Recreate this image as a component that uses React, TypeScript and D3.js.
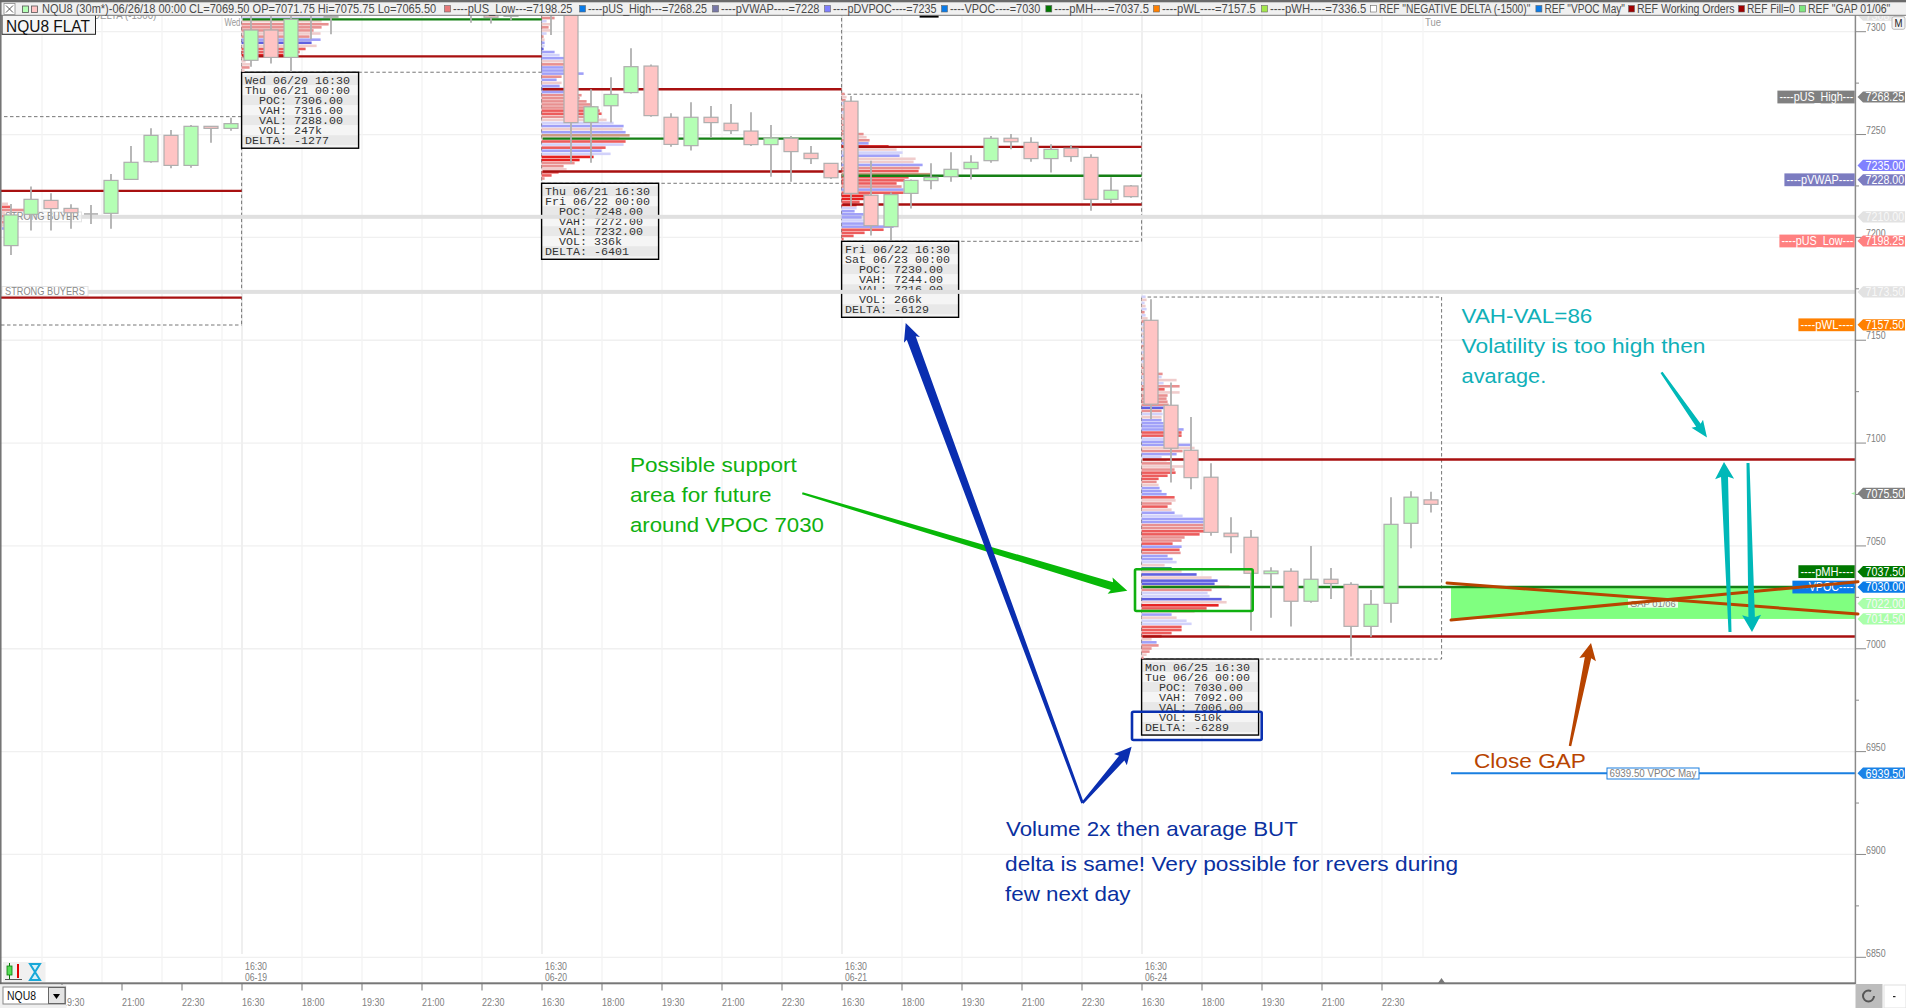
import React from "react";
import * as d3 from "d3";

// ---------- data ----------
const yGridPrices = [7300, 7250, 7200, 7150, 7100, 7050, 7000, 6950, 6900, 6850];
const yMinorPrices = [7275, 7225, 7175, 7125, 7075, 7025, 6975, 6925, 6875];

const candleIndex = [0,1,2,3,4,5,6,7,8,9,10,11,12,13,14,15,16,23,24,25,27,28,29,30,31,32,33,34,35,36,37,38,39,40,41,42,43,44,45,46,47,48,49,50,51,52,53,54,55,56,57,58,59,60,61,62,63,64,65,66,67,68,69,70,71];
const candleOpen = [7196,7211.2,7218,7214.1,7211.4,7211.7,7228.2,7236.8,7249.6,7235,7254,7253,7286.1,7300.8,7287.5,7309,7307,7312,7308,7307.5,7318,7325,7255.9,7264,7270.4,7283.3,7258.4,7244.6,7258.4,7255.5,7251.7,7245.1,7248.2,7240.9,7236,7266.2,7220.5,7205.2,7221.4,7227.6,7229.5,7233.4,7237.3,7248.2,7246.2,7238.3,7243.3,7238.9,7218.5,7225,7159.7,7118.4,7096.5,7083.4,7056.2,7054.2,7036.5,7037.7,7023.1,7033.8,7031.3,7010.9,7022.1,7061,7072.4];
const candleClose = [7210.9,7218.5,7214,7212,7211.4,7227.7,7236.5,7249.6,7235,7254,7253,7255.3,7300.8,7287.5,7306,7308,7307.6,7310,7307,7308.2,7316,7255.8,7263.5,7269.5,7283,7259.2,7245.2,7258.4,7255.8,7251.9,7245.1,7248.3,7241.7,7238.3,7229,7221.4,7205.7,7220.8,7227.7,7229.2,7233.1,7236.5,7248.2,7246.5,7238.3,7242.8,7239.3,7218.5,7222.9,7219.8,7118.9,7097.5,7083.2,7056.6,7054.5,7036.7,7037.8,7023.1,7033.8,7031.7,7010.9,7021.6,7060.5,7073.7,7070.2];
const candleHigh = [7216.2,7224.7,7221.4,7216.1,7215.7,7230.8,7244.4,7253,7252.2,7254.6,7254.1,7258.2,7312,7312,7312,7312,7312,7318,7318,7318,7320,7330,7272,7277.8,7292,7284.1,7260.3,7265.7,7263.9,7264.9,7260.8,7254.6,7249.3,7244.4,7236,7268.7,7237.2,7221.8,7228.2,7236,7241.4,7239.9,7249.3,7250.3,7248.7,7245.3,7244.9,7240.4,7229.2,7225.5,7169.9,7129.4,7112.7,7090.2,7063.9,7057.8,7039.6,7039.1,7050,7039.3,7032.3,7028.6,7073.7,7076.6,7076.3];
const candleLow = [7191.4,7203.3,7203.3,7204.2,7206.5,7204.2,7227.9,7236.3,7233.6,7233.9,7246,7251.9,7283,7284.6,7280.6,7296.3,7298.7,7304.4,7304,7305.4,7298.4,7236,7236.3,7255.9,7270,7258.7,7244.1,7242.2,7248.6,7250.3,7244.4,7229.5,7227.1,7235.7,7228.4,7215.3,7200.9,7198.7,7214,7223.4,7227.1,7228.2,7236.3,7242.8,7236.8,7231.5,7236.8,7213,7216.6,7219.3,7111.6,7080.8,7077.5,7055,7046.4,7008.8,7015.1,7010.8,7022.4,7024.2,6996.2,7005.9,7012.7,7048.9,7066.2];

const sessionFirstIndex = [12, 27, 42, 57];
const sessionEndIndex = [27, 42, 57, 72];
const sessionPoc = [7306, 7248, 7230, 7030];
const sessionVah = [7316, 7272, 7244, 7092];
const sessionVal = [7288, 7232, 7216, 7006];
const sessionBoxTop = [7330, 7330, 7269.6, 7171];
const sessionBoxBottom = [7280.3, 7226.3, 7198.1, 6995];
const priorVah = 7222.6;
const priorVal = 7170.7;
const priorBoxTop = 7258.7;
const priorBoxBottom = 7157.4;

const tableOpen = ["Wed 06/20 16:30", "Thu 06/21 16:30", "Fri 06/22 16:30", "Mon 06/25 16:30"];
const tableClose = ["Thu 06/21 00:00", "Fri 06/22 00:00", "Sat 06/23 00:00", "Tue 06/26 00:00"];
const tablePoc = ["7306.00", "7248.00", "7230.00", "7030.00"];
const tableVah = ["7316.00", "7272.00", "7244.00", "7092.00"];
const tableVal = ["7288.00", "7232.00", "7216.00", "7006.00"];
const tableVol = ["247k", "336k", "266k", "510k"];
const tableDelta = ["-1277", "-6401", "-6129", "-6289"];

// volume profile rows: volume + tone letter, top to bottom, one row per 1.5 points
const profilePrior = ["6q","8r","24p","3q","3p","3q","3p","2q","3a"];
const profileStartPrior = 7216.2;
const profileStarts = [7308, 7308, 7269.6, 7171];
const profile1 = ["82t","88b","80q","87p","80p","72p","79q","68p","79a","70c","75q","64r","58r","42d","7q","4q","9q","8p","3q"];
const profile2 = ["13q","13p","5b","9q","7p","9q","5b","2p","3q","3a","3b","2c","13a","18b","24a","24q","24p","22a","24a","42a","20p","15a","20q","18a","23c","34a","40p","38p","45p","50p","53p","58r","60r","57p","65q","72b","82a","81q","84a","88t","78q","84r","82b","64r","60a","69b","52d","38d","33p","22p","25q","17r","10r","3p"];
const profile3 = ["3p","5q","4p","6b","4q","5p","4b","3q","5p","6q","8p","10q","14p","22p","25q","28p","27a","47d","55q","61b","58a","74q","72q","81a","78p","77r","89t","67r","63r","55r","60p","62a","62r","28d","25d","18r","15d","15b","13a","22a","20a","25b","35a","52a","42r","23r","12r","2r"];
const profile4 = ["4b","5q","3b","4q","5b","3p","4b","6q","5p","4b","3q","5b","4q","3b","5q","4b","3p","4q","5b","4q","3p","4b","5q","4p","6q","21p","20b","35q","22b","38p","23r","38q","26p","25p","26p","27p","22c","20p","21b","20q","20a","22a","24a","42a","40r","40r","24b","30a","50a","53q","41p","35a","20b","25q","30p","42q","33p","34r","26r","17r","15p","17q","18a","20a","25a","33r","34q","30p","26r","30q","33a","41b","62a","62a","62p","62p","63r","58r","43p","40p","31r","40a","38r","39p","26a","31a","35b","23q","30e","40q","55c","70q","76c","73c","88t","70p","66b","68b","80c","85q","77d","65r","53q","30a","35q","45b","50b","40r","40r","30r","20r","10q","15a","17p","10p","8p","5q","2p"];
const profileTones: Record<string, string> = { a: "#a0a0f8", b: "#d2d2fa", c: "#6060e0", p: "#e89090", q: "#f0cccc", r: "#ec5c5c", d: "#e62222", t: "#cc9a80", e: "#409090" };

const flagPrices = [7308, 7268.25, 7235, 7228, 7210, 7198.25, 7173.5, 7157.5, 7075.5, 7037.5, 7030, 7022, 7014.5, 6939.5];
const flagColors = ["#e2e2e2", "#808080", "#8080ff", "#7c7cc0", "#e2e2e2", "#ff8080", "#e2e2e2", "#ff8000", "#808080", "#007800", "#0a7be8", "#aaffaa", "#aaffaa", "#1a82e6"];
const flagTags = ["", "----pUS_High---", "", "----pVWAP----", "", "----pUS_Low---", "", "----pWL----", "", "----pMH----", "----VPOC----", "", "", ""];
const flagTagWidths = [0, 78, 0, 71, 0, 76, 0, 57, 0, 57, 63, 0, 0, 0];

const headerTexts = ["NQU8 (30m*)-06/26/18 00:00 CL=7069.50 OP=7071.75 Hi=7075.75 Lo=7065.50", "----pUS_Low---=7198.25", "----pUS_High---=7268.25", "----pVWAP----=7228", "----pDVPOC----=7235", "----VPOC----=7030", "----pMH----=7037.5", "----pWL----=7157.5", "----pWH----=7336.5", "REF \"NEGATIVE DELTA (-1500)\"", "REF \"VPOC May\"", "REF Working Orders", "REF Fill=0", "REF \"GAP 01/06\""];
const headerStarts = [42, 453, 588, 721, 833, 950, 1054.3, 1162, 1270, 1379, 1544.4, 1637, 1747, 1808];
const headerEnds = [436.7, 572.6, 707, 819.6, 936.7, 1040.4, 1149, 1256, 1366.4, 1531, 1625, 1734.6, 1795, 1890.5];
const headerSwatches = ["#e87878", "#0a7be8", "#7878a8", "#8080ff", "#0a7be8", "#007800", "#ff8000", "#a4e84c", "#ffffff", "#0a7be8", "#a00000", "#a00000", "#7fe87f"];

const timeTickLabels = ["19:30","21:00","22:30","16:30","18:00","19:30","21:00","22:30","16:30","18:00","19:30","21:00","22:30","16:30","18:00","19:30","21:00","22:30","16:30","18:00","19:30","21:00","22:30"];
const dateLabels = ["06-19", "06-20", "06-21", "06-24"];

// ---------- scales ----------
const WIDTH = 1906, HEIGHT = 1008;
const AXIS_X = 1855.4;
const y = d3.scaleLinear().domain([7300, 6850]).range([31.7, 957.3]);
const x = d3.scaleLinear().domain([0, 71]).range([11, 1431]);
const vol = d3.scaleLinear().domain([0, 100]).range([0, 100]);
const edge = (i: number) => x(i) - 9.4;

const SANS = "'Liberation Sans', Arial, sans-serif";
const NARROW = SANS;
const MONO = "'Liberation Mono', monospace";

const measureCtx = document.createElement("canvas").getContext("2d") as CanvasRenderingContext2D;
function naturalWidth(text: string, size: number, family: string) {
  measureCtx.font = `${size}px ${family}`;
  return measureCtx.measureText(text).width;
}

// text squeezed horizontally to the exact width it takes in the reference
function T(props: { x: number; y: number; w?: number; size: number; fill: string; family?: string; children: React.ReactNode }) {
  const { x: tx, y: ty, w, size, fill, family, children } = props;
  const fam = family || SANS;
  const sx = w ? w / naturalWidth(String(children), size, fam) : 1;
  return (
    <text transform={`translate(${tx},${ty}) scale(${sx},1)`} fontSize={size} fill={fill} fontFamily={fam} style={{ whiteSpace: "pre" }}>
      {children}
    </text>
  );
}

function arrow(x0: number, y0: number, x1: number, y1: number, w0: number, w1: number, hw: number, hl: number) {
  const len = Math.hypot(x1 - x0, y1 - y0);
  const ux = (x1 - x0) / len, uy = (y1 - y0) / len;
  const nx = -uy, ny = ux;
  const bx = x1 - ux * hl, by = y1 - uy * hl;
  const pts: [number, number][] = [
    [x0 + nx * w0 / 2, y0 + ny * w0 / 2],
    [bx + nx * w1 / 2, by + ny * w1 / 2],
    [bx + nx * hw / 2 - ux * 2, by + ny * hw / 2 - uy * 2],
    [x1, y1],
    [bx - nx * hw / 2 - ux * 2, by - ny * hw / 2 - uy * 2],
    [bx - nx * w1 / 2, by - ny * w1 / 2],
    [x0 - nx * w0 / 2, y0 - ny * w0 / 2],
  ];
  return pts.map((p) => p.join(",")).join(" ");
}

function Profile({ rows, left, start }: { rows: string[]; left: number; start: number }) {
  const h = Math.abs(y(0) - y(1.5));
  return (
    <g>
      {rows.map((r, k) => {
        const v = parseInt(r, 10);
        const tone = r[r.length - 1];
        const p = start - k * 1.5;
        return <rect key={k} x={left} y={y(p) - h / 2} width={vol(v)} height={h - 0.5} fill={profileTones[tone]} />;
      })}
    </g>
  );
}

function Table({ i }: { i: number }) {
  const left = edge(sessionFirstIndex[i]);
  const top = y(sessionBoxBottom[i]);
  const lines = [tableOpen[i], tableClose[i], "  POC: " + tablePoc[i], "  VAH: " + tableVah[i], "  VAL: " + tableVal[i], "  VOL: " + tableVol[i], "DELTA: " + tableDelta[i]];
  return (
    <g>
      <rect x={left} y={top} width={117} height={76} fill="#f4f4f4" />
      {lines.map((l, k) => (
        <g key={k}>
          <rect x={left} y={top + 3 + k * 10} width={117} height={10} fill={k % 2 === 0 ? "#e8e8e8" : "#f5f5f5"} />
          <T x={left + 3.5} y={top + 11.5 + k * 10} size={11.67} fill="#333" family={MONO}>{l}</T>
        </g>
      ))}
      <rect x={left} y={top} width={117} height={76} fill="none" stroke="#000" strokeWidth={1.4} />
    </g>
  );
}

export default function App() {
  const sessionGrid = sessionFirstIndex.map((i) => i - 0.45);
  const grid = [1.55, 4.55, 7.55, 10.55, ...d3.range(14.55, 69, 3)].filter((g) => !sessionGrid.some((s) => Math.abs(s - g) < 0.01));
  const tickIdx = d3.range(2.55, 69, 3);
  return (
    <svg width={WIDTH} height={HEIGHT} viewBox={`0 0 ${WIDTH} ${HEIGHT}`} style={{ position: "fixed", left: 0, top: 0, background: "#fff" }}>
      {/* grid */}
      {yGridPrices.map((p) => (
        <line key={p} x1={0} x2={AXIS_X} y1={y(p)} y2={y(p)} stroke="#f0f0f0" strokeWidth={1.3} />
      ))}
      {grid.map((g) => (
        <line key={g} x1={x(g)} x2={x(g)} y1={16} y2={983} stroke="#f3f3f3" strokeWidth={1.3} />
      ))}
      {sessionGrid.map((g) => (
        <line key={g} x1={x(g)} x2={x(g)} y1={16} y2={954} stroke="#efefef" strokeWidth={2} />
      ))}
      <line x1={1423} x2={1423} y1={16} y2={957} stroke="#f5f5f5" strokeWidth={1.3} />

      {/* band labels partly under the header */}
      <T x={4} y={18.5} w={153} size={10.5} fill="#999" family={NARROW}>7300.00 NEGATIVE DELTA (-1500)</T>
      <T x={224.5} y={26} w={16} size={10} fill="#999" family={NARROW}>Wed</T>
      <T x={1425} y={26} w={16} size={10} fill="#999" family={NARROW}>Tue</T>
      <rect x={919.6} y={15} width={19} height={2.6} fill="#000" />

      {/* session boxes */}
      {sessionFirstIndex.map((f, i) => (
        <rect key={f} x={edge(f)} y={y(sessionBoxTop[i])} width={edge(sessionEndIndex[i]) - edge(f)} height={y(sessionBoxBottom[i]) - y(sessionBoxTop[i])}
          fill="none" stroke="#777" strokeWidth={1} strokeDasharray="3.5 2.5" />
      ))}
      <line x1={4} x2={edge(12)} y1={y(priorBoxTop)} y2={y(priorBoxTop)} stroke="#777" strokeDasharray="3.5 2.5" />
      <line x1={1} x2={edge(12)} y1={y(priorBoxBottom)} y2={y(priorBoxBottom)} stroke="#777" strokeDasharray="3.5 2.5" />
      <line x1={edge(12)} x2={edge(12)} y1={y(priorBoxTop)} y2={y(priorBoxBottom)} stroke="#777" strokeDasharray="3.5 2.5" />

      {/* stat tables */}
      {sessionFirstIndex.map((_, i) => <Table key={i} i={i} />)}

      {/* strong buyers bands */}
      <rect x={0} y={y(7210) - 2} width={AXIS_X} height={4} fill="#e0e0e0" />
      <rect x={0} y={y(7173.5) - 2} width={AXIS_X} height={4} fill="#e0e0e0" />

      {/* band labels */}
      <rect x={2} y={212} width={79.5} height={9.8} fill="#ffffff" fillOpacity={0.55} stroke="#e4e4e4" />
      <T x={5} y={220} w={74} size={10} fill="#8a8a8a" family={NARROW}>STRONG BUYER</T>
      <rect x={2} y={286.5} width={86} height={9.5} fill="#ffffff" stroke="#e4e4e4" />
      <T x={5} y={295} w={80} size={10} fill="#8a8a8a" family={NARROW}>STRONG BUYERS</T>

      {/* gap zone */}
      <rect x={1451} y={y(7030)} width={AXIS_X - 1451} height={y(7014.5) - y(7030)} fill="#80ff80" />

      {/* profiles */}
      <Profile rows={profilePrior} left={2} start={profileStartPrior} />
      <Profile rows={profile1} left={edge(12)} start={profileStarts[0]} />
      <Profile rows={profile2} left={edge(27)} start={profileStarts[1]} />
      <Profile rows={profile3} left={edge(42)} start={profileStarts[2]} />
      <Profile rows={profile4} left={edge(57)} start={profileStarts[3]} />

      {/* value area lines */}
      <line x1={1} x2={edge(12)} y1={y(priorVah)} y2={y(priorVah)} stroke="#a81010" strokeWidth={2.4} />
      <line x1={1} x2={edge(12)} y1={y(priorVal)} y2={y(priorVal)} stroke="#a81010" strokeWidth={2.4} />
      {sessionFirstIndex.map((f, i) => {
        const x1 = edge(f) + 1;
        const x2 = i === 3 ? AXIS_X : edge(sessionEndIndex[i]);
        return (
          <g key={f}>
            <line x1={x1} x2={x2} y1={y(sessionVah[i])} y2={y(sessionVah[i])} stroke="#a81010" strokeWidth={2.4} />
            <line x1={x1} x2={x2} y1={y(sessionVal[i])} y2={y(sessionVal[i])} stroke="#a81010" strokeWidth={2.4} />
            <line x1={x1} x2={x2} y1={y(sessionPoc[i])} y2={y(sessionPoc[i])} stroke="#158015" strokeWidth={2.4} />
          </g>
        );
      })}

      {/* candles */}
      {candleIndex.map((idx, k) => {
        const o = candleOpen[k], c = candleClose[k];
        const up = c >= o;
        const cx = x(idx);
        const top = y(Math.max(o, c)), bot = y(Math.min(o, c));
        const flat = o === c;
        return (
          <g key={idx}>
            <line x1={cx} x2={cx} y1={y(candleHigh[k])} y2={y(candleLow[k])} stroke="#b0b0b0" strokeWidth={1.8} />
            {flat ? (
              <line x1={cx - 7} x2={cx + 7} y1={top} y2={top} stroke="#b0b0b0" strokeWidth={1.6} />
            ) : (
              <rect x={cx - 7} y={top} width={14} height={Math.max(bot - top, 1)} fill={up ? "#b4ffb4" : "#ffc4c4"} stroke="#aeaeae" strokeWidth={1.2} />
            )}
          </g>
        );
      })}

      {/* VPOC May reference */}
      <line x1={1451} x2={AXIS_X} y1={y(6939.5)} y2={y(6939.5)} stroke="#1a7fe0" strokeWidth={2} />
      <rect x={1607} y={768} width={92} height={11} fill="#fff" stroke="#1a7fe0" strokeWidth={1} />
      <T x={1609.5} y={777} w={87} size={10} fill="#808080" family={NARROW}>6939.50 VPOC May</T>

      {/* right axis */}
      <rect x={AXIS_X} y={16} width={WIDTH - AXIS_X} height={968} fill="#fff" />
      <line x1={AXIS_X} x2={AXIS_X} y1={15} y2={984} stroke="#8a8a8a" strokeWidth={1.5} />
      {yGridPrices.map((p) => (
        <g key={p}>
          <line x1={AXIS_X} x2={1866} y1={y(p)} y2={y(p)} stroke="#8a8a8a" strokeWidth={1} />
          <T x={1866} y={y(p) - 0.8} w={19.6} size={10.5} fill="#808080" family={NARROW}>{p}</T>
        </g>
      ))}
      {yMinorPrices.map((p) => (
        <line key={p} x1={AXIS_X} x2={1859} y1={y(p)} y2={y(p)} stroke="#8a8a8a" strokeWidth={1} />
      ))}

      {/* price flags */}
      {flagPrices.map((p, i) => {
        const fy = y(p);
        const light = flagColors[i] === "#e2e2e2" || flagColors[i] === "#aaffaa";
        return (
          <g key={p}>
            {flagTags[i] && <rect x={AXIS_X - flagTagWidths[i]} y={fy - 6.4} width={flagTagWidths[i] - 0.7} height={12.8} fill={flagColors[i]} />}
            {flagTags[i] && <T x={AXIS_X - flagTagWidths[i] + 2} y={fy + 4} w={flagTagWidths[i] - 4} size={12} fill="#fff" family={NARROW}>{flagTags[i]}</T>}
            <polygon points={`1857.5,${fy} 1863,${fy - 5.6} 1905,${fy - 5.6} 1905,${fy + 5.6} 1863,${fy + 5.6}`} fill={flagColors[i]} />
            <T x={1865.6} y={fy + 4.3} w={38.6} size={12} fill={light ? "#f8f8f8" : "#fff"} family={NARROW}>{p.toFixed(2)}</T>
          </g>
        );
      })}
      <polygon points={`1851,${y(7075.5)} 1855,${y(7075.5) - 1.5} 1855,${y(7075.5) + 1.5}`} fill="#a8f0a8" />
      <rect x={1892} y={16.7} width={13} height={12.6} rx={2} fill="#f4f4f4" stroke="#bbb" />
      <T x={1894.6} y={27} w={8} size={11} fill="#222">M</T>

      {/* GAP label */}
      <rect x={1628} y={599} width={50} height={8.7} fill="#ffffff" fillOpacity={0.85} />
      <T x={1630} y={607} w={46} size={9.5} fill="#808080" family={NARROW}>GAP 01/06</T>

      {/* highlights */}
      <rect x={1135} y={569.3} width={117.7} height={41.7} rx={1.5} fill="none" stroke="#10b010" strokeWidth={2.6} />
      <rect x={1132} y={711.7} width={129.7} height={28.3} rx={1.5} fill="none" stroke="#0a30b0" strokeWidth={2.6} />

      {/* crossed gap */}
      <line x1={1447} y1={583} x2={1858} y2={614} stroke="#b84400" strokeWidth={3} strokeLinecap="round" />
      <line x1={1451} y1={620} x2={1858} y2={581.7} stroke="#b84400" strokeWidth={3} strokeLinecap="round" />

      {/* arrows */}
      <polygon points={arrow(802.3, 493.3, 1127.3, 590.7, 2.2, 8, 17, 16)} fill="#08b808" />
      <polygon points={arrow(1082.5, 803, 905.7, 323, 2.6, 9.5, 17, 16)} fill="#0a2eb0" />
      <polygon points={arrow(1082.5, 803, 1131.6, 746.8, 2.6, 7, 17, 15)} fill="#0a2eb0" />
      <polygon points={arrow(1730, 632, 1724, 462, 3, 7, 19, 15)} fill="#00b8b8" />
      <polygon points={arrow(1748, 463, 1752, 632, 3, 6.5, 19, 15)} fill="#00b8b8" />
      <polygon points={arrow(1661.5, 372.4, 1707, 437.6, 2.5, 5.5, 14, 15)} fill="#00b8b8" />
      <polygon points={arrow(1570, 746, 1591, 643, 2.5, 6.5, 17, 15)} fill="#b84400" />

      {/* notes */}
      <T x={630} y={471.7} w={167} size={20.5} fill="#10b010">Possible support</T>
      <T x={630} y={501.7} w={141.7} size={20.5} fill="#10b010">area for future</T>
      <T x={630} y={531.7} w={194} size={20.5} fill="#10b010">around VPOC 7030</T>
      <T x={1461.6} y={323} w={130.8} size={20.5} fill="#10b0b8">VAH-VAL=86</T>
      <T x={1461.6} y={353.4} w={244} size={20.5} fill="#10b0b8">Volatility is too high then</T>
      <T x={1461.6} y={383} w={84.7} size={20.5} fill="#10b0b8">avarage.</T>
      <T x={1474} y={768} w={112} size={21} fill="#b84400">Close GAP</T>
      <T x={1006} y={836} w={292} size={20.5} fill="#0a30a0">Volume 2x then avarage BUT</T>
      <T x={1005} y={871.4} w={453.5} size={20.5} fill="#0a30a0">delta is same! Very possible for revers during</T>
      <T x={1005} y={901} w={125.6} size={20.5} fill="#0a30a0">few next day</T>

      {/* NQU8 FLAT */}
      <rect x={2} y={14} width={93.5} height={20.3} fill="#f6f6f6" stroke="#222" strokeWidth={1} />
      <T x={6} y={32} w={84} size={17} fill="#111">NQU8 FLAT</T>

      {/* date labels */}
      {sessionGrid.map((g, i) => (
        <g key={g}>
          <T x={x(g) + 3} y={970} w={22} size={10.5} fill="#808080" family={NARROW}>16:30</T>
          <T x={x(g) + 3} y={981} w={22} size={10.5} fill="#808080" family={NARROW}>{dateLabels[i]}</T>
        </g>
      ))}

      {/* bottom axis */}
      <rect x={0} y={984} width={WIDTH} height={24} fill="#fff" />
      <rect x={0} y={982.3} width={AXIS_X} height={2} fill="#777" />
      {tickIdx.map((t, i) => (
        <g key={t}>
          <line x1={x(t)} x2={x(t)} y1={984} y2={990.5} stroke="#777" strokeWidth={1} />
          <T x={x(t)} y={1005.5} w={22.4} size={11} fill="#808080" family={NARROW}>{timeTickLabels[i]}</T>
        </g>
      ))}
      <polygon points="1438,983 1441.5,978 1445,983" fill="#777" />

      {/* toolbar */}
      <rect x={3} y={962} width={42.5} height={20} fill="#f0f0f0" />
      <line x1={5} x2={22} y1={979.5} y2={979.5} stroke="#555" strokeWidth={1} />
      <line x1={9.5} x2={9.5} y1={963} y2={979} stroke="#0a7a0a" strokeWidth={1} />
      <rect x={7} y={966} width={5} height={9} fill="#55dd55" stroke="#0a7a0a" strokeWidth={0.8} />
      <line x1={18} x2={18} y1={964} y2={978} stroke="#e00000" strokeWidth={2} />
      <path d="M30 964 L40 964 L35 972 L40 980 L30 980 L35 972 Z" fill="#d8f0f8" stroke="#18a8d8" strokeWidth={2} />

      <rect x={0} y={985} width={66.5} height={23} fill="#efefef" />
      <rect x={3} y={987} width={62.5} height={17} fill="#fff" stroke="#888" strokeWidth={1} />
      <T x={7} y={1000} w={29} size={12} fill="#111" family={NARROW}>NQU8</T>
      <rect x={48.5} y={987.5} width={16.5} height={16} fill="#e4e4e4" stroke="#666" />
      <polygon points="53,994 60,994 56.5,999" fill="#000" />

      <rect x={1855.5} y={984} width={27} height={24} fill="#bdbdbd" />
      <circle cx={1868.5} cy={996} r={5.5} fill="none" stroke="#555" strokeWidth={2} strokeDasharray="28 7" />
      <rect x={1884} y={985} width={22} height={23} fill="#fff" stroke="#e0e0e0" />
      <rect x={1893} y={996} width={2.5} height={1.2} fill="#222" />

      {/* header */}
      <rect x={0} y={0} width={WIDTH} height={15.3} fill="#f0f0f0" />
      <rect x={0} y={0} width={WIDTH} height={2.3} fill="#6a6a6a" />
      <line x1={0} x2={WIDTH} y1={15.3} y2={15.3} stroke="#7a7a7a" strokeWidth={1} />
      <rect x={4} y={3.5} width={11} height={11} fill="#fff" stroke="#888" strokeWidth={0.8} />
      <path d="M6 5.5 L13 12.5 M13 5.5 L6 12.5" stroke="#444" strokeWidth={0.9} />
      <rect x={22.5} y={6} width={6} height={6.5} fill="#b4ffb4" stroke="#555" strokeWidth={0.8} />
      <rect x={31.5} y={6} width={6} height={6.5} fill="#ffc4c4" stroke="#555" strokeWidth={0.8} />
      {headerTexts.map((t, i) => (
        <g key={i}>
          <T x={headerStarts[i]} y={12.8} w={headerEnds[i] - headerStarts[i]} size={12} fill="#4a4a4a" family={NARROW}>{t}</T>
          {i > 0 && <rect x={headerStarts[i] - 8.5} y={5.5} width={6} height={6.5} fill={headerSwatches[i - 1]} stroke="#666" strokeWidth={0.6} />}
        </g>
      ))}
      {/* window left border */}
      <line x1={0.8} x2={0.8} y1={0} y2={984} stroke="#666" strokeWidth={1.4} />
    </svg>
  );
}
